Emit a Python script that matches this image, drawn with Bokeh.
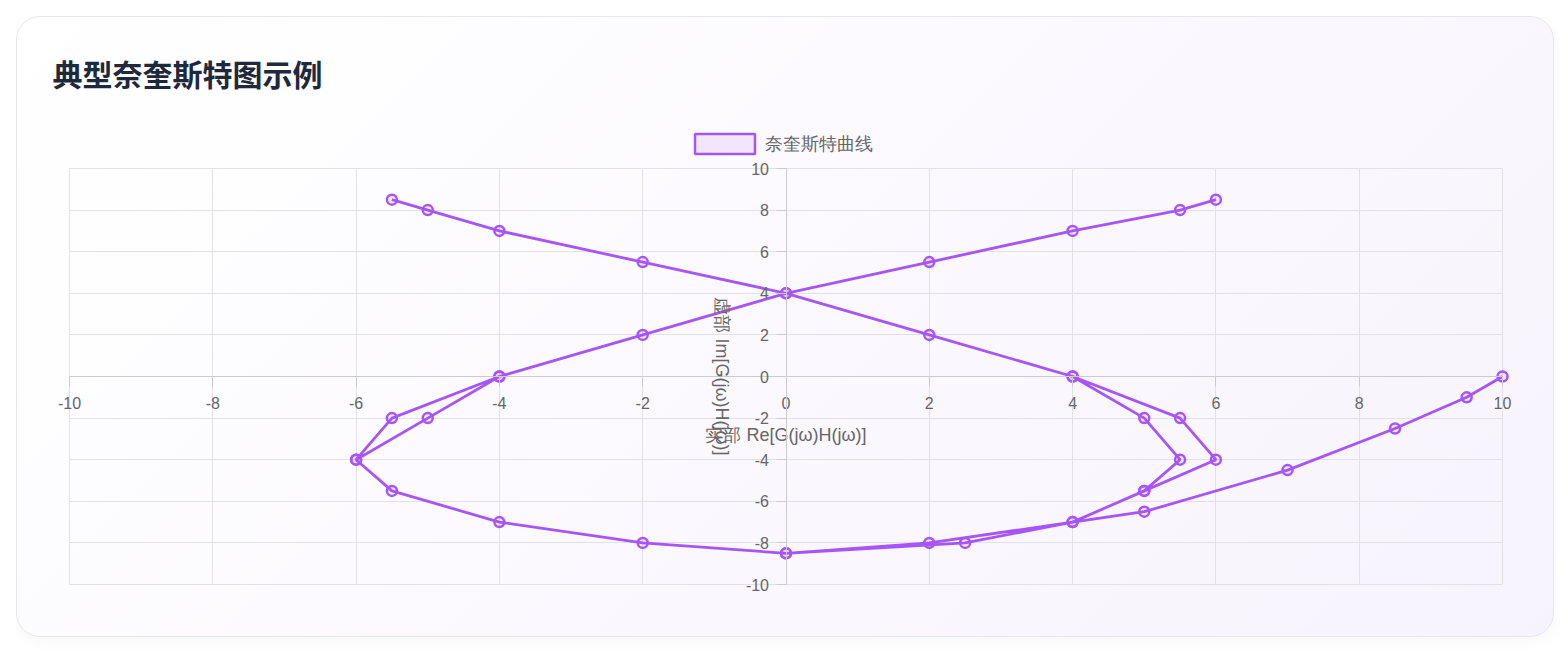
import math
from bokeh.plotting import figure
from bokeh.layouts import column
from bokeh.models import (ColumnDataSource, Legend, LegendItem, Title, FixedTicker, Range1d, Label)
from bokeh.embed import file_html
from bokeh.resources import INLINE

try:
    from bokeh.models import GlobalInlineStyleSheet
except ImportError:
    GlobalInlineStyleSheet = None

nan = float("nan")

# Nyquist curve branches (real part, imaginary part)
main_re = [10, 9.5, 8.5, 7, 5, 4, 2.5, 0, -2, -4, -5.5, -6, -5.5, -4, -2, 0, 2, 4, 5.5, 6]
main_im = [0, -1, -2.5, -4.5, -6.5, -7, -8, -8.5, -8, -7, -5.5, -4, -2, 0, 2, 4, 5.5, 7, 8, 8.5]
mirror_re = [-5.5, -5, -4, -2, 0, 2, 4, 5.5, 6, 5, 4, 2, 0]
mirror_im = [8.5, 8, 7, 5.5, 4, 2, 0, -2, -4, -5.5, -7, -8, -8.5]
inner_right_re = [4, 5, 5.5, 5]
inner_right_im = [0, -2, -4, -5.5]
inner_left_re = [-4, -5, -6]
inner_left_im = [0, -2, -4]

x_ticks = [-10, -8, -6, -4, -2, 0, 2, 4, 6, 8, 10]
y_ticks = [-10, -8, -6, -4, -2, 0, 2, 4, 6, 8, 10]
axis_min, axis_max = -10, 10

title_text = "典型奈奎斯特图示例"
series_name = "奈奎斯特曲线"
x_title = "实部 Re[G(jω)H(jω)]"
y_title = "虚部 Im[G(jω)H(jω)]"

re_all = main_re + [nan] + mirror_re + [nan] + inner_right_re + [nan] + inner_left_re
im_all = main_im + [nan] + mirror_im + [nan] + inner_right_im + [nan] + inner_left_im
src = ColumnDataSource(dict(x=re_all, y=im_all))

PURPLE = "#a855f7"
GRID = "#e2e2e6"
AXIS = "#cbcbd0"
LABEL = "#666666"
FONT = "Liberation Sans"

# frame geometry (pixels): plot area 1433 x 416, padded so edge tick labels are not clipped
AREA_W, AREA_H = 1433, 416
PAD_X, PAD_Y = 16, 12
x_pad = PAD_X * (axis_max - axis_min) / AREA_W
y_pad = PAD_Y * (axis_max - axis_min) / AREA_H

# ---- header figure: title + legend ----
head = figure(width=1536, height=139, output_backend="svg", toolbar_location=None,
              x_range=Range1d(0, 1), y_range=Range1d(0, 1),
              x_axis_type=None, y_axis_type=None,
              min_border_left=36, min_border_right=35, min_border_top=85, min_border_bottom=0,
              background_fill_color=None, border_fill_color=None, outline_line_color=None)
head.title = Title(text=title_text, text_font="Noto Sans CJK SC", text_font_size="30px",
                   text_font_style="bold", text_color="#1e293b", align="left",
                   offset=-1, standoff=15)

swatch = head.rect(x=[nan], y=[nan], width=1, height=1, fill_color=PURPLE, fill_alpha=0.12,
                   line_color=PURPLE, line_width=2.5)
legend = Legend(items=[LegendItem(label=series_name, renderers=[swatch])],
                location=(634, 0), orientation="horizontal",
                glyph_width=75, glyph_height=25, label_standoff=3,
                label_text_font=FONT, label_text_font_size="18px", label_text_color=LABEL,
                border_line_color=None, background_fill_color=None, background_fill_alpha=0,
                padding=0, margin=0, spacing=0)
head.add_layout(legend, "center")

# ---- main plot ----
p = figure(width=1536, height=480, output_backend="svg", toolbar_location=None,
           x_range=Range1d(axis_min - x_pad, axis_max + x_pad),
           y_range=Range1d(axis_min - y_pad, axis_max + y_pad),
           min_border_left=36, min_border_right=35, min_border_top=0, min_border_bottom=40,
           background_fill_color=None, border_fill_color=None, outline_line_color=None)

p.xaxis.ticker = FixedTicker(ticks=x_ticks)
p.yaxis.ticker = FixedTicker(ticks=y_ticks)
p.xaxis.major_label_overrides = {t: str(t) for t in x_ticks}
p.yaxis.major_label_overrides = {t: str(t) for t in y_ticks}
p.xaxis.fixed_location = 0
p.yaxis.fixed_location = 0
p.xaxis.bounds = (axis_min, axis_max)
p.yaxis.bounds = (axis_min, axis_max)
for ax in (p.xaxis, p.yaxis):
    ax.axis_line_color = AXIS
    ax.axis_line_width = 1
    ax.major_tick_line_color = AXIS
    ax.major_tick_out = 10
    ax.major_tick_in = 0
    ax.minor_tick_line_color = None
    ax.major_label_text_font = FONT
    ax.major_label_text_font_size = "16px"
    ax.major_label_text_color = LABEL
    ax.axis_label_text_font = FONT
    ax.axis_label_text_font_size = "18px"
    ax.axis_label_text_font_style = "normal"
    ax.axis_label_text_color = LABEL
p.xaxis.major_label_standoff = 10
p.yaxis.major_label_standoff = 7
p.xaxis.axis_label = x_title
p.xaxis.axis_label_standoff = 13

# y-axis title, centred on the imaginary axis and reading downwards as in the reference
p.add_layout(Label(x=0, y=0, x_offset=-64, text=y_title, angle=-math.pi / 2,
                   text_align="center", text_baseline="middle",
                   text_font=FONT, text_font_size="18px", text_color=LABEL))

p.xgrid.grid_line_color = GRID
p.ygrid.grid_line_color = GRID
for g in (p.xgrid, p.ygrid):
    g.bounds = (axis_min, axis_max)
    if hasattr(g, "cross_bounds"):
        g.cross_bounds = (axis_min, axis_max)

p.line("x", "y", source=src, line_color=PURPLE, line_width=2.8)
p.scatter("x", "y", source=src, marker="circle", size=10, line_color=PURPLE, line_width=2.5,
          fill_color=PURPLE, fill_alpha=0.1)

sheets = []
if GlobalInlineStyleSheet is not None:
    sheets.append(GlobalInlineStyleSheet(css="body { margin: 16px 0 0 16px !important; }"))

card = column(head, p, spacing=0, stylesheets=sheets,
              styles={"border-radius": "24px", "border": "1px solid #e5e7eb",
                      "background": "linear-gradient(135deg, #ffffff 0%, #f7f3fd 100%)",
                      "box-shadow": "0 4px 14px rgba(0,0,0,0.04)"})

open("out.html", "w").write(file_html(card, INLINE))
